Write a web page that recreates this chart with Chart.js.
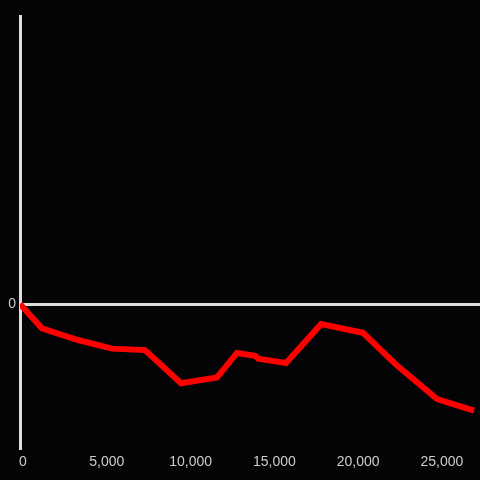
<!DOCTYPE html>
<html>
<head>
<meta charset="utf-8">
<script src="https://cdn.jsdelivr.net/npm/chart.js@4"></script>
<style>
  html, body { margin: 0; padding: 0; background: #040305; }
  #wrap { width: 480px; height: 480px; }
</style>
</head>
<body>
<div id="wrap"><canvas id="grafico"></canvas></div>
<script>
// datos de la serie (x, y)
var xValues = [0, 1312, 3461, 5490, 7458, 9608, 11757, 12948, 14028, 14209, 15875, 17964, 20466, 22434, 24887, 27097];
var yValues = [0, -0.17, -0.25, -0.31, -0.32, -0.55, -0.51, -0.34, -0.36, -0.38, -0.41, -0.14, -0.20, -0.42, -0.66, -0.74];
var xTicks = [0, 5000, 10000, 15000, 20000, 25000];
var yTicks = [0];

var puntos = xValues.map(function (x, i) {
    return { x: x, y: yValues[i] };
});

var config = {
    type: 'line',
    data: {
        datasets: [{
            data: puntos,
            borderColor: '#ff0000',
            borderWidth: 6,
            pointRadius: 0,
            tension: 0,
            fill: false
        }]
    },
    options: {
        responsive: true,
        maintainAspectRatio: false,
        animation: false,
        layout: { padding: { top: 16, right: 0, left: 0, bottom: 0 } },
        plugins: {
            legend: { display: false },
            tooltip: { enabled: false }
        },
        scales: {
            x: {
                type: 'linear',
                min: 0,
                max: 27450,
                grid: { display: false, drawTicks: false },
                border: { display: false },
                afterBuildTicks: function (scale) {
                    scale.ticks = xTicks.map(function (v) { return { value: v }; });
                },
                afterFit: function (scale) { scale.height = 32; },
                ticks: {
                    color: '#cccccc',
                    font: { family: 'Liberation Sans', size: 14 },
                    padding: 6,
                    labelOffset: 3,
                    maxRotation: 0,
                    autoSkip: false,
                    callback: function (v) { return v.toLocaleString('en-US'); }
                }
            },
            y: {
                min: -1,
                max: 2,
                grid: {
                    drawTicks: false,
                    lineWidth: 3,
                    color: function (ctx) {
                        return ctx.tick && ctx.tick.value === 0 ? '#dddddd' : 'rgba(0,0,0,0)';
                    }
                },
                border: { display: true, color: '#dddddd', width: 3 },
                afterBuildTicks: function (scale) {
                    scale.ticks = yTicks.map(function (v) { return { value: v }; });
                },
                afterFit: function (scale) { scale.width = 20; },
                ticks: {
                    color: '#cccccc',
                    font: { family: 'Liberation Sans', size: 14 },
                    padding: 4
                }
            }
        }
    }
};

window.onload = function () {
    var ctx = document.getElementById('grafico').getContext('2d');
    window.miGrafico = new Chart(ctx, config);
};
</script>
</body>
</html>
